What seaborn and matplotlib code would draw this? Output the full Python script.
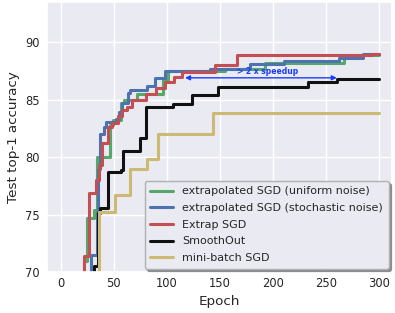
import numpy as np
import pandas as pd
import matplotlib
matplotlib.use("Agg")
import matplotlib.pyplot as plt
import seaborn as sns

# ---- data (step breakpoints: epoch, best test accuracy) ----
green_epochs = [1, 22, 25, 31, 34, 46, 49, 57, 60, 72, 96, 101, 155, 192, 267, 300]
green_acc = [40, 71.0, 74.7, 75.4, 80.0, 82.8, 83.2, 84.7, 85.0, 85.5, 86.7, 87.5, 87.7, 88.15, 88.85, 88.85]

blue_epochs = [1, 28, 34, 35, 37, 41, 43, 52, 55, 58, 63, 65, 81, 89, 98, 141, 178, 210, 262, 285, 300]
blue_acc = [40, 71.5, 75.2, 79.0, 82.0, 82.6, 83.05, 83.3, 83.9, 84.7, 85.6, 85.8, 86.2, 86.9, 87.5, 87.7, 88.1, 88.4, 88.6, 88.95, 88.95]

red_epochs = [1, 22, 27, 33, 36, 39, 44, 48, 54, 58, 62, 67, 80, 90, 98, 107, 114, 145, 166, 293, 300]
red_acc = [40, 71.4, 76.9, 78.0, 79.3, 81.2, 82.6, 83.0, 83.6, 84.1, 84.4, 85.0, 85.5, 86.0, 86.5, 86.95, 87.4, 88.0, 88.85, 89.0, 89.0]

black_epochs = [1, 31, 35, 37, 44, 57, 59, 75, 80, 106, 124, 148, 233, 260, 300]
black_acc = [40, 70.5, 75.1, 75.6, 78.7, 78.85, 80.5, 81.7, 84.35, 84.6, 85.4, 86.1, 86.5, 86.8, 86.8]

yellow_epochs = [1, 36, 51, 65, 81, 92, 143, 270, 300]
yellow_acc = [40, 75.2, 76.7, 79.0, 79.8, 82.0, 83.8, 83.85, 83.85]

labels = ["extrapolated SGD (uniform noise)",
          "extrapolated SGD (stochastic noise)",
          "Extrap SGD",
          "SmoothOut",
          "mini-batch SGD"]

x_ticks = [0, 50, 100, 150, 200, 250, 300]
y_ticks = [70, 75, 80, 85, 90]

speedup_text = "> 2 x speedup"
arrow_left_epoch, arrow_right_epoch, arrow_acc = 117, 260, 86.9

# ---- build long table ----
series = [(labels[0], green_epochs, green_acc),
          (labels[1], blue_epochs, blue_acc),
          (labels[2], red_epochs, red_acc),
          (labels[3], black_epochs, black_acc),
          (labels[4], yellow_epochs, yellow_acc)]
frames = []
for name, ep, acc in series:
    frames.append(pd.DataFrame({"Epoch": ep, "acc": acc, "method": name}))
df = pd.concat(frames, ignore_index=True)

sns.set_theme(style="darkgrid")
plt.rcParams['font.family'] = ['DejaVu Sans']

palette = dict(zip(labels, ["#55a868", "#4c72b0", "#c44e52", "#111111", "#ccb974"]))

fig = plt.figure(figsize=(3.95, 3.13), dpi=100)
ax = fig.add_axes([47/395, 41/313, 345/395, 270/313])

sns.lineplot(data=df, x="Epoch", y="acc", hue="method", hue_order=labels,
             palette=palette, estimator=None, drawstyle="steps-post",
             linewidth=2.2, ax=ax)

ax.set_xlim(-13, 312)
ax.set_ylim(70, 93.5)
ax.set_xticks(x_ticks)
ax.set_yticks(y_ticks)
ax.tick_params(axis="both", length=0, labelsize=8.3)
ax.tick_params(axis="x", pad=3.5)
ax.tick_params(axis="y", pad=5)
ax.set_xlabel("Epoch", fontsize=9.7, labelpad=4)
ax.set_ylabel("Test top-1 accuracy", fontsize=9.7, labelpad=4)

ax.annotate("", xy=(arrow_left_epoch, arrow_acc), xytext=(arrow_right_epoch, arrow_acc),
            arrowprops=dict(arrowstyle="<|-|>", color="#1a3cff", lw=1.0,
                            mutation_scale=7, shrinkA=0, shrinkB=0))
ax.text(195, arrow_acc + 0.12, speedup_text,
        color="#1a3cff", fontsize=5.5, fontweight="bold", ha="center", va="bottom")

leg = ax.legend(loc="lower right", fontsize=8, frameon=True, shadow=True,
                borderaxespad=0.3, handlelength=2.1, handletextpad=0.8,
                labelspacing=0.6, borderpad=0.5)
leg.get_frame().set_edgecolor("#b0b0b0")
leg.get_frame().set_facecolor("#eaeaf2")

fig.savefig("out.png", dpi=100)
